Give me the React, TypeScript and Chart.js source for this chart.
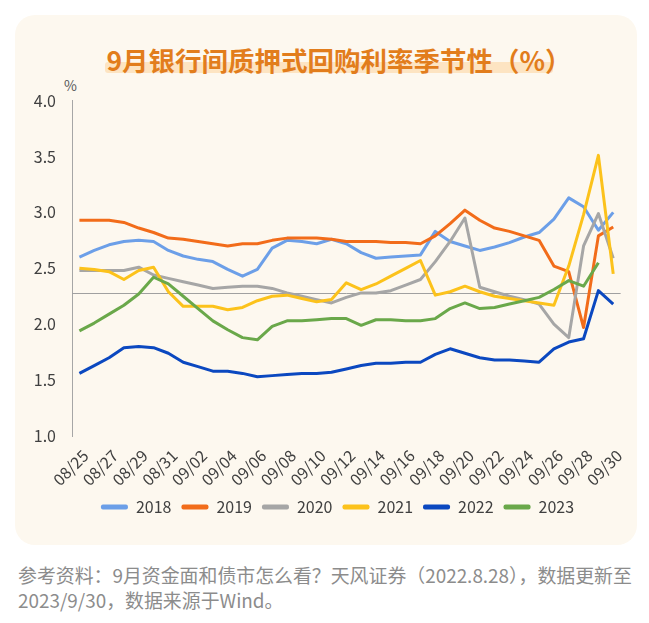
import React, { useEffect, useRef } from "react";
import { Chart, registerables } from "chart.js";

Chart.register(...registerables);

const FONT = "'Noto Sans CJK SC', 'Noto Sans', sans-serif";

const DAYS = [
  "08/25", "08/26", "08/27", "08/28", "08/29", "08/30", "08/31",
  "09/01", "09/02", "09/03", "09/04", "09/05", "09/06", "09/07", "09/08", "09/09", "09/10",
  "09/11", "09/12", "09/13", "09/14", "09/15", "09/16", "09/17", "09/18", "09/19", "09/20",
  "09/21", "09/22", "09/23", "09/24", "09/25", "09/26", "09/27", "09/28", "09/29", "09/30",
];

const YEARS = ["2018", "2019", "2020", "2021", "2022", "2023"];
const COLORS = ["#6c9fe8", "#f26c1a", "#a6a6a6", "#fcc21b", "#0b48c0", "#6aa84a"];

const S2018 = [2.60, 2.66, 2.71, 2.74, 2.75, 2.74, 2.66, 2.61, 2.58, 2.56, 2.49, 2.43, 2.49, 2.68, 2.75, 2.74, 2.72, 2.76, 2.72, 2.64, 2.59, 2.60, 2.61, 2.62, 2.83, 2.74, 2.70, 2.66, 2.69, 2.73, 2.78, 2.82, 2.94, 3.13, 3.05, 2.84, 3.00];
const S2019 = [2.93, 2.93, 2.93, 2.91, 2.86, 2.82, 2.77, 2.76, 2.74, 2.72, 2.70, 2.72, 2.72, 2.75, 2.77, 2.77, 2.77, 2.76, 2.74, 2.74, 2.74, 2.73, 2.73, 2.72, 2.79, 2.90, 3.02, 2.93, 2.86, 2.83, 2.79, 2.75, 2.52, 2.47, 1.97, 2.79, 2.87];
const S2020 = [2.48, 2.48, 2.48, 2.48, 2.51, 2.44, 2.41, 2.38, 2.35, 2.32, 2.33, 2.34, 2.34, 2.32, 2.28, 2.25, 2.22, 2.19, 2.24, 2.28, 2.28, 2.30, 2.35, 2.40, 2.56, 2.74, 2.95, 2.33, 2.29, 2.25, 2.22, 2.18, 2.00, 1.88, 2.70, 2.99, 2.59];
const S2021 = [2.50, 2.49, 2.47, 2.40, 2.48, 2.51, 2.29, 2.16, 2.16, 2.16, 2.13, 2.15, 2.21, 2.25, 2.26, 2.23, 2.20, 2.22, 2.37, 2.31, 2.36, 2.43, 2.50, 2.57, 2.26, 2.29, 2.34, 2.29, 2.25, 2.23, 2.21, 2.19, 2.17, 2.52, 2.98, 3.51, 2.45];
const S2022 = [1.56, 1.63, 1.70, 1.79, 1.80, 1.79, 1.74, 1.66, 1.62, 1.58, 1.58, 1.56, 1.53, 1.54, 1.55, 1.56, 1.56, 1.57, 1.60, 1.63, 1.65, 1.65, 1.66, 1.66, 1.73, 1.78, 1.74, 1.70, 1.68, 1.68, 1.67, 1.66, 1.78, 1.84, 1.87, 2.30, 2.18];
const S2023 = [1.94, 2.01, 2.09, 2.17, 2.27, 2.42, 2.36, 2.25, 2.14, 2.03, 1.95, 1.88, 1.86, 1.98, 2.03, 2.03, 2.04, 2.05, 2.05, 1.99, 2.04, 2.04, 2.03, 2.03, 2.05, 2.14, 2.19, 2.14, 2.15, 2.18, 2.21, 2.24, 2.31, 2.39, 2.34, 2.55, null];

const SERIES = [S2018, S2019, S2020, S2021, S2022, S2023];

const Y_MIN = 1.0;
const Y_MAX = 4.0;
const Y_STEP = 0.5;
const AXIS_CROSS = 2.28;
const LEGEND_SHIFT = 19;

const crossLinePlugin = {
  id: "crossLine",
  afterLayout(chart: any) {
    if (chart.legend) chart.legend.left += LEGEND_SHIFT * 2;
  },
  beforeDatasetsDraw(chart: any) {
    const { ctx, chartArea, scales } = chart;
    const y = Math.round(scales.y.getPixelForValue(AXIS_CROSS)) + 0.5;
    ctx.save();
    ctx.strokeStyle = "#a0a0a0";
    ctx.lineWidth = 1;
    ctx.beginPath();
    ctx.moveTo(chartArea.left, y);
    ctx.lineTo(chartArea.right, y);
    ctx.stroke();
    ctx.restore();
  },
};

export default function App() {
  const ref = useRef<HTMLCanvasElement>(null);

  useEffect(() => {
    Chart.defaults.font.family = FONT;
    const chart = new Chart(ref.current as HTMLCanvasElement, {
      type: "line",
      data: {
        labels: DAYS,
        datasets: SERIES.map((s, i) => ({
          label: YEARS[i],
          data: s,
          borderColor: COLORS[i],
          backgroundColor: COLORS[i],
          borderWidth: 3,
          pointRadius: 0,
          tension: 0,
          spanGaps: false,
          order: SERIES.length - 1 - i,
          borderJoinStyle: "round" as const,
        })),
      },
      options: {
        responsive: false,
        animation: false,
        layout: { padding: { top: 6, right: 15, left: 0, bottom: 10 } },
        plugins: {
          legend: {
            position: "bottom",
            labels: {
              boxWidth: 27,
              boxHeight: 5,
              useBorderRadius: true,
              borderRadius: 2,
              padding: 10,
              color: "#404040",
              font: { size: 16, family: FONT },
              generateLabels: (c: any) =>
                c.data.datasets.map((ds: any, i: number) => ({
                  text: ds.label,
                  fillStyle: ds.borderColor,
                  strokeStyle: ds.borderColor,
                  lineWidth: 0,
                  hidden: false,
                  datasetIndex: i,
                  borderRadius: 2,
                  fontColor: "#404040",
                })),
            },
          },
          tooltip: { enabled: false },
        },
        scales: {
          x: {
            type: "category",
            offset: true,
            grid: { display: false, drawTicks: false },
            border: { display: false },
            ticks: {
              autoSkip: false,
              maxRotation: 45,
              minRotation: 45,
              padding: 10,
              labelOffset: 6,
              color: "#404040",
              font: { size: 16, family: FONT },
              callback: (_v: any, idx: number) => (idx % 2 === 0 ? DAYS[idx] : ""),
            },
            afterFit: (scale: any) => {
              scale.height = 53;
            },
          },
          y: {
            min: Y_MIN,
            max: Y_MAX,
            grid: { display: false, drawTicks: false },
            border: { display: true, color: "#a6a6a6", width: 1 },
            ticks: {
              stepSize: Y_STEP,
              padding: 16,
              color: "#404040",
              font: { size: 16, family: FONT },
              callback: (v: any) => Number(v).toFixed(1),
            },
            afterFit: (scale: any) => {
              scale.width = 57;
            },
          },
        },
      },
      plugins: [crossLinePlugin],
    });
    return () => chart.destroy();
  }, []);

  return (
    <div style={{ position: "relative", width: 633, height: 607, fontFamily: FONT }}>
      <div
        style={{
          position: "absolute",
          left: 7,
          top: 7,
          width: 622,
          height: 530,
          borderRadius: 20,
          background: "#fdf8ef",
        }}
      >
        <div
          style={{
            position: "absolute",
            left: 90,
            top: 47,
            width: 448,
            height: 11,
            background: "#fde4c2",
            borderRadius: 3,
          }}
        />
        <div style={{ position: "absolute", left: 26, right: 0, top: 27, textAlign: "center", whiteSpace: "nowrap" }}>
          <span
            style={{
              fontSize: 26.5,
              fontWeight: 700,
              lineHeight: "35px",
              color: "#e27d1c",
            }}
          >
            9月银行间质押式回购利率季节性（%）
          </span>
        </div>
        <div
          style={{
            position: "absolute",
            left: 49,
            top: 62,
            fontSize: 14,
            lineHeight: "16px",
            color: "#595959",
          }}
        >
          %
        </div>
        <div style={{ position: "absolute", left: 0, top: 60, width: 622, height: 460 }}>
          <canvas ref={ref} width={622} height={460} style={{ width: 622, height: 460, display: "block" }} />
        </div>
      </div>
      <div
        style={{
          position: "absolute",
          left: 10,
          top: 554,
          width: 630,
          fontSize: 18.9,
          lineHeight: "25px",
          color: "#8c8c8c",
          whiteSpace: "nowrap",
        }}
      >
        参考资料：9月资金面和债市怎么看？天风证券（2022.8.28），数据更新至
        <br />
        2023/9/30，数据来源于Wind。
      </div>
    </div>
  );
}
